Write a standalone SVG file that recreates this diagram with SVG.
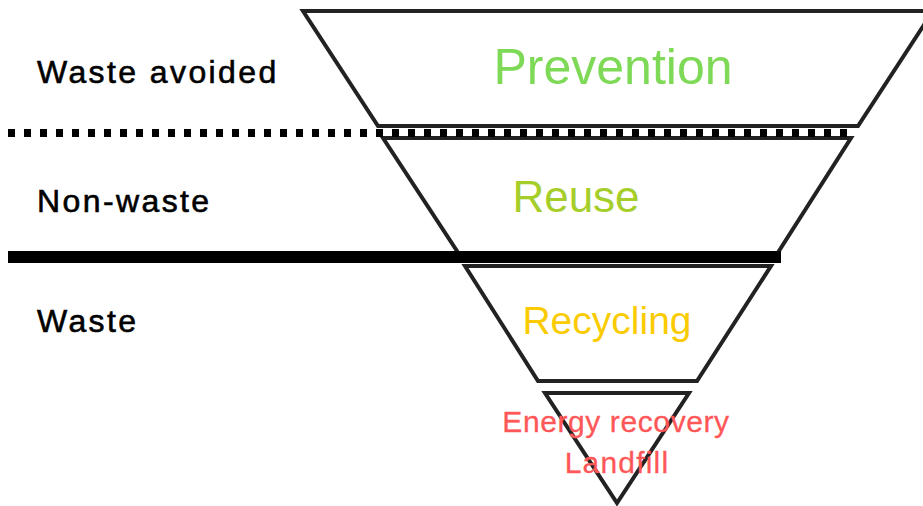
<svg xmlns="http://www.w3.org/2000/svg" width="923" height="506" viewBox="0 0 923 506">
<style>
.tier{fill:#fff;stroke:#222;stroke-width:4;stroke-linejoin:miter}
.lbl{font-family:"Liberation Sans",Arial,sans-serif;font-size:32px;fill:#000;stroke:#000;stroke-width:0.6;letter-spacing:2.4px}
.t{font-family:"Liberation Sans",Arial,sans-serif;text-anchor:middle}
</style>
<rect width="923" height="506" fill="#fff"/>
<g id="prevention">
<polygon class="tier" points="303,11 933,11 858,126 378,126"/>
<text class="t" x="613" y="84" font-size="50" fill="#7ED957">Prevention</text>
</g>
<g id="reuse">
<polygon class="tier" points="383,138 851,138 777,254 459,254"/>
<text class="t" x="576" y="212" font-size="44" fill="#A6CE2B">Reuse</text>
</g>
<g id="recycling">
<polygon class="tier" points="465,266 771,266 697,381 538,381"/>
<text class="t" x="607" y="334" font-size="39" fill="#FACB00">Recycling</text>
</g>
<g id="energy">
<polygon class="tier" points="545,393 689,393 617,503"/>
<text class="t" x="616" y="432" font-size="30" letter-spacing="0.6" fill="#FF5757" stroke="#FF5757" stroke-width="0.3">Energy recovery</text>
<text class="t" x="617" y="473" font-size="30" letter-spacing="1.2" fill="#FF5757" stroke="#FF5757" stroke-width="0.3">Landfill</text>
</g>
<g id="connectors">
<line x1="8" y1="133" x2="853" y2="133" stroke="#000" stroke-width="8" stroke-dasharray="7 9"/>
<line x1="8" y1="257" x2="781" y2="257" stroke="#000" stroke-width="12"/>
</g>
<g id="labels">
<text class="lbl" x="37" y="83">Waste avoided</text>
<text class="lbl" x="37" y="212">Non-waste</text>
<text class="lbl" x="37" y="332">Waste</text>
</g>
</svg>
